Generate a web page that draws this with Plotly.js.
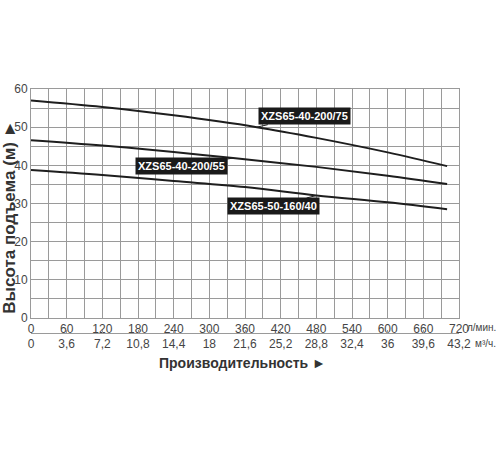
<!DOCTYPE html>
<html>
<head>
<meta charset="utf-8">
<script src="https://cdn.plot.ly/plotly-3.0.1.min.js"></script>
<style>html,body{margin:0;padding:0;background:#fff;}#chart{width:500px;height:450px;}</style>
</head>
<body>
<div id="chart"></div>
<script>
// Flow (l/min) and head (m)
const q75 = [0, 120, 240, 380, 480, 600, 700];
const h75 = [57.0, 55.3, 53.1, 50.0, 47.2, 43.4, 39.8];
const q55 = [0, 120, 240, 340, 480, 600, 700];
const h55 = [46.6, 45.2, 43.5, 41.9, 39.6, 37.3, 35.1];
const q40 = [0, 120, 240, 360, 480, 600, 700];
const h40 = [38.8, 37.5, 35.9, 34.3, 32.1, 30.3, 28.5];
const seriesNames = ['XZS65-40-200/75', 'XZS65-40-200/55', 'XZS65-50-160/40'];

// Tick labels
const flowLmin = [0, 60, 120, 180, 240, 300, 360, 420, 480, 540, 600, 660, 720];
const flowM3h = ['0', '3,6', '7,2', '10,8', '14,4', '18', '21,6', '25,2', '28,8', '32,4', '36', '39,6', '43,2'];
const headTicks = [0, 10, 20, 30, 40, 50, 60];

const sans = '"Liberation Sans", Arial, sans-serif';
const lineCol = '#1e1e1e';
const gridCol = '#9a9a9a';
const tickCol = '#454545';

function curve(x, y, name) {
  return {x: x, y: y, name: name, type: 'scatter', mode: 'lines',
          line: {color: lineCol, width: 2, shape: 'spline'}, hoverinfo: 'skip', showlegend: false};
}
const traces = [
  curve(q75, h75, seriesNames[0]),
  curve(q55, h55, seriesNames[1]),
  curve(q40, h40, seriesNames[2]),
  {x: [], y: [], xaxis: 'x2', yaxis: 'y', type: 'scatter', showlegend: false, hoverinfo: 'skip'}
];

function tag(text, x, y, ax, ay) {
  return {text: text, x: x, y: y, xref: 'x', yref: 'y', ax: ax, ay: ay,
          showarrow: true, arrowhead: 0, arrowwidth: 1, arrowcolor: lineCol,
          bgcolor: '#1a1a1a', borderpad: 2,
          font: {family: sans, size: 11, color: '#ffffff', weight: 'bold'}};
}

const layout = {
  width: 500, height: 450,
  margin: {l: 31, r: 41, t: 89, b: 80},
  paper_bgcolor: '#ffffff', plot_bgcolor: '#ffffff',
  showlegend: false,
  xaxis: {
    range: [0, 720], tickvals: flowLmin, ticktext: flowLmin.map(String),
    showgrid: true, gridcolor: gridCol, gridwidth: 1,
    minor: {dtick: 30, showgrid: true, gridcolor: gridCol, gridwidth: 1},
    showline: true, mirror: true, linecolor: gridCol, linewidth: 1,
    ticks: '', zeroline: false, fixedrange: true,
    tickfont: {family: sans, size: 12, color: tickCol}
  },
  xaxis2: {
    overlaying: 'x', anchor: 'free', position: 0.132, side: 'bottom',
    range: [0, 720], tickvals: flowLmin, ticktext: flowM3h,
    showgrid: false, zeroline: false, showline: true, linecolor: gridCol, linewidth: 1,
    ticks: 'inside', ticklen: 3, tickcolor: gridCol,
    tickfont: {family: sans, size: 12, color: tickCol}
  },
  yaxis: {
    domain: [0.185, 1], range: [0, 60], tickvals: headTicks,
    showgrid: true, gridcolor: gridCol, gridwidth: 1,
    minor: {dtick: 5, showgrid: true, gridcolor: gridCol, gridwidth: 1},
    showline: true, mirror: true, linecolor: gridCol, linewidth: 1,
    ticks: '', zeroline: false, fixedrange: true,
    tickfont: {family: sans, size: 12, color: tickCol}
  },
  annotations: [
    tag(seriesNames[0], q75[3], h75[3], 48, -11),
    tag(seriesNames[1], q55[3], h55[3], -52, 8),
    tag(seriesNames[2], q40[4], h40[4], -43, 11),
    {text: 'л/мин.', xref: 'paper', yref: 'paper', x: 1.092, y: 0.1495, xanchor: 'right', yanchor: 'middle',
     showarrow: false, font: {family: sans, size: 10, color: tickCol}},
    {text: 'м³/ч.', xref: 'paper', yref: 'paper', x: 1.092, y: 0.093, xanchor: 'right', yanchor: 'middle',
     showarrow: false, font: {family: sans, size: 10, color: tickCol}},
    {text: 'Производительность ►', xref: 'paper', yref: 'paper', x: 0.495, y: 0.026, xanchor: 'center', yanchor: 'middle',
     showarrow: false, font: {family: sans, size: 14, color: '#333', weight: 'bold'}},
    {text: 'Высота подъема (м) ►', xref: 'paper', yref: 'paper', x: -0.05, y: 0.544, xanchor: 'center', yanchor: 'middle',
     textangle: -90, showarrow: false, font: {family: sans, size: 17, color: '#333', weight: 'bold'}}
  ]
};

Plotly.newPlot('chart', traces, layout, {displayModeBar: false, staticPlot: true});
</script>
</body>
</html>
